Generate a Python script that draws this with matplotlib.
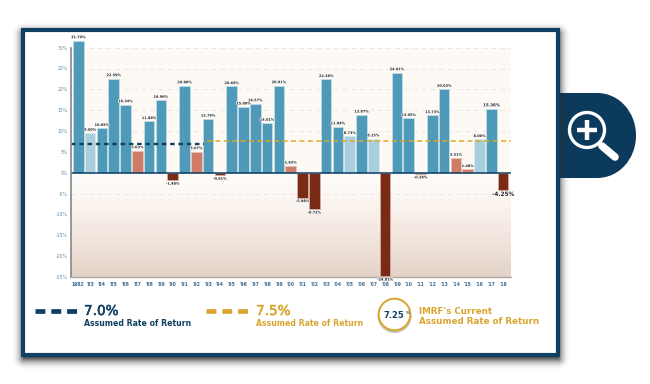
import numpy as np
import matplotlib
matplotlib.use("Agg")
import matplotlib.pyplot as plt
import matplotlib.patheffects as pe
from matplotlib.colors import LinearSegmentedColormap
from matplotlib.patches import Rectangle, Circle, PathPatch
from matplotlib.path import Path

years = ["1982", "'83", "'84", "'85", "'86", "'87", "'88", "'89", "'90", "'91", "'92", "'93",
         "'94", "'95", "'96", "'97", "'98", "'99", "'00", "'01", "'02", "'03", "'04", "'05",
         "'06", "'07", "'08", "'09", "'10", "'11", "'12", "'13", "'14", "'15", "'16", "'17", "'18"]
returns = [31.70, 9.50, 10.65, 22.59, 16.34, 5.30, 12.30, 17.40, -1.80, 20.88, 5.07, 12.89,
           -0.61, 20.69, 15.80, 16.57, 11.90, 20.91, 1.63, -5.98, -8.72, 22.38, 11.04, 8.73,
           13.87, 8.15, -24.81, 24.01, 13.05, -0.28, 13.73, 20.03, 3.51, 0.80, 8.00, 15.36, -4.25]
labels = ["31.70%", "9.50%", "10.65%", "22.59%", "16.34%", "5.03%", "11.88%", "16.96%", "-1.48%", "20.88%", "5.07%", "12.79%",
          "-0.61%", "20.69%", "15.80%", "16.57%", "14.01%", "20.91%", "1.63%", "-5.98%", "-8.72%", "22.38%", "11.04%", "8.73%",
          "13.87%", "8.15%", "-24.81%", "24.01%", "13.05%", "-0.28%", "13.73%", "20.03%", "3.51%", "1.48%", "8.00%", "15.36%", "-4.25%"]
kinds = ["a", "l", "a", "a", "a", "s", "a", "a", "d", "a", "s", "a",
         "d", "a", "a", "a", "a", "a", "s", "d", "d", "a", "a", "l",
         "a", "l", "d", "a", "a", "d", "a", "a", "s", "s", "l", "a", "d"]
y_ticks = [30, 25, 20, 15, 10, 5, 0, -5, -10, -15, -20, -25]
grid_levels = [30, 25, 20, 15, 10, -5, -15]
rate_old, rate_new = 7.0, 7.5

palette = {"a": "#4f9ab8", "l": "#a9cfdf", "s": "#cf7d68", "d": "#7a2b15"}
edges = {"a": "#c4e0ea", "l": "#d8eaf1", "s": "#ecc6ba", "d": "#d9b6a8"}
NAVY = "#0f3f63"
GOLD = "#d9a52e"

W, H = 650, 384
fig = plt.figure(figsize=(W / 100, H / 100), dpi=100, facecolor="white")
bg = fig.add_axes([0, 0, 1, 1])
bg.axis("off")

# soft drop shadow behind the card
xx, yy = np.meshgrid(np.arange(W) + .5, np.arange(H) + .5)
dx = np.maximum(np.maximum(24 - xx, xx - 558), 0)
dy = np.maximum(np.maximum(34 - yy, yy - 358), 0)
d = np.hypot(dx, dy)
alpha = np.clip(1 - d / 13, 0, 1) ** 2.2 * 0.8
rgba = np.zeros((H, W, 4)); rgba[..., :3] = 0.18; rgba[..., 3] = alpha
bg.imshow(rgba, extent=(0, W, H, 0), zorder=1.5, aspect="auto")
bg.set_xlim(0, W); bg.set_ylim(H, 0)

# side tab with magnifier
verts = [(556, 93), (597, 93), (619, 93), (636, 112), (636, 135.5), (636, 159), (619, 178), (597, 178), (556, 178), (556, 93)]
codes = [Path.MOVETO, Path.LINETO, Path.CURVE4, Path.CURVE4, Path.CURVE4, Path.CURVE4, Path.CURVE4, Path.CURVE4, Path.LINETO, Path.CLOSEPOLY]
bg.add_patch(PathPatch(Path(verts, codes), fc="#0b3a5c", ec="none", zorder=1))
bg.add_patch(Circle((587, 130), 17.5, fc="none", ec="white", lw=2.4, zorder=3))
bg.plot([577, 597], [130, 130], color="white", lw=3.2, solid_capstyle="butt", zorder=3)
bg.plot([587, 587], [120, 140], color="white", lw=3.2, solid_capstyle="butt", zorder=3)
bg.plot([602, 615], [146, 157], color="white", lw=5.5, solid_capstyle="round", zorder=3)

# card
bg.add_patch(Rectangle((22.5, 30), 535, 325, fc="white", ec=NAVY, lw=3, zorder=2))

# chart axes: -25 at y=277 px, 4.17 px per percent
px = 4.17
top_val = 33.0
ax_top = 277 - (top_val + 25) * px
ax = fig.add_axes([71 / W, 1 - 277 / H, (510.7 - 71) / W, (277 - ax_top) / H], facecolor="none")
for s in ax.spines.values():
    s.set_visible(False)

# backgrounds
ax.axhspan(0, 30, facecolor="#fdfaf6", edgecolor="none", zorder=0)
grad = LinearSegmentedColormap.from_list("warm", ["#fefcfb", "#fcf7f3", "#f8efe9", "#f2e6de", "#ebddd3", "#e2d2c6"])
yb = np.linspace(-25, 0, 106)
ax.pcolormesh([-0.62, 36.64], yb, ((0 - 0.5 * (yb[:-1] + yb[1:])) / 25)[:, None], cmap=grad,
              vmin=0, vmax=1, shading="flat", zorder=0, linewidth=0, antialiased=False)
ax.set_xlim(-0.62, 36.64); ax.set_ylim(-25, top_val)

for g in grid_levels:
    ax.plot([-0.62, 36.64], [g, g], color="#ece7e1", lw=0.7, ls=(0, (5, 4)), zorder=1)

x = np.arange(len(years))
ax.bar(x, returns, width=0.9, color=[palette[k] for k in kinds],
       edgecolor=[edges[k] for k in kinds], linewidth=0.5, zorder=2)

for i, (v, lab) in enumerate(zip(returns, labels)):
    fs = 4.1 if lab == "-4.25%" else (2.9 if lab == "15.36%" else 2.5)
    ax.annotate(lab, (i, v), xytext=(0, 1.0 if v > 0 else -1.0), textcoords="offset points",
                ha="center", va="bottom" if v > 0 else "top", fontsize=fs,
                fontweight="bold", color="#222222", zorder=5,
                path_effects=[pe.withStroke(linewidth=0.8, foreground="white")])

ax.plot([-0.62, 36.64], [0, 0], color=NAVY, lw=1.1, zorder=3)
ax.plot([-0.62, 10.65], [rate_old, rate_old], color=NAVY, lw=1.7, ls=(0, (1.9, 1.6)), zorder=4)
ax.plot([10.88, 36.64], [rate_new, rate_new], color="#e0a820", lw=1.1, ls=(0, (3.3, 2.2)), zorder=4)

ax.set_yticks(y_ticks)
ax.set_yticklabels([f"{v}%" for v in y_ticks], fontsize=3.3, color="#5f89a6")
ax.set_xticks(x)
ax.set_xticklabels(years, fontsize=3.3, color="#3e6e92", fontweight="bold")
ax.tick_params(length=0, pad=2.2)
ax.tick_params(axis="x", pad=3.5)

# axis rails
ax.plot([-0.62, -0.62], [-25, 30], color="#8f8f8f", lw=1.3, zorder=4, clip_on=False)
ax.plot([-0.62, 36.64], [-25, -25], color="#b0a8a2", lw=1.0, zorder=4, clip_on=False)

# legend
stroke = [pe.withStroke(linewidth=0.35, foreground=NAVY)]
gstroke = [pe.withStroke(linewidth=0.35, foreground=GOLD)]
bg.plot([35, 78], [311, 311], color=NAVY, lw=3.4, ls=(0, (2.1, 1.25)), zorder=3)
bg.text(84, 311, "7.0%", fontsize=9.8, color=NAVY, va="center", ha="left", zorder=3, path_effects=stroke)
bg.text(84, 323, "Assumed Rate of Return", fontsize=5.55, fontweight="bold", color=NAVY, va="center", ha="left", zorder=3)
bg.plot([206, 250], [311, 311], color=GOLD, lw=3.4, ls=(0, (2.1, 1.25)), zorder=3)
bg.text(256, 311, "7.5%", fontsize=9.8, color=GOLD, va="center", ha="left", zorder=3, path_effects=gstroke)
bg.text(256, 323, "Assumed Rate of Return", fontsize=5.55, fontweight="bold", color=GOLD, va="center", ha="left", zorder=3)

bg.add_patch(Circle((394.5, 316), 17, fc="#c4c4c4", ec="none", zorder=3))
bg.add_patch(Circle((394.5, 314.5), 15.8, fc="white", ec=GOLD, lw=1.4, zorder=3))
bg.text(384, 315, "7.25", fontsize=6.0, fontweight="bold", color=NAVY, va="center", ha="left", zorder=4)
bg.text(405.5, 313.5, "%", fontsize=2.8, fontweight="bold", color=NAVY, va="center", ha="left", zorder=4)
bg.text(419, 311, "IMRF's Current", fontsize=6.3, fontweight="bold", color=GOLD, va="center", ha="left", zorder=3)
bg.text(419, 322, "Assumed Rate of Return", fontsize=6.3, fontweight="bold", color=GOLD, va="center", ha="left", zorder=3)

fig.savefig("out.png", dpi=100, facecolor="white")
